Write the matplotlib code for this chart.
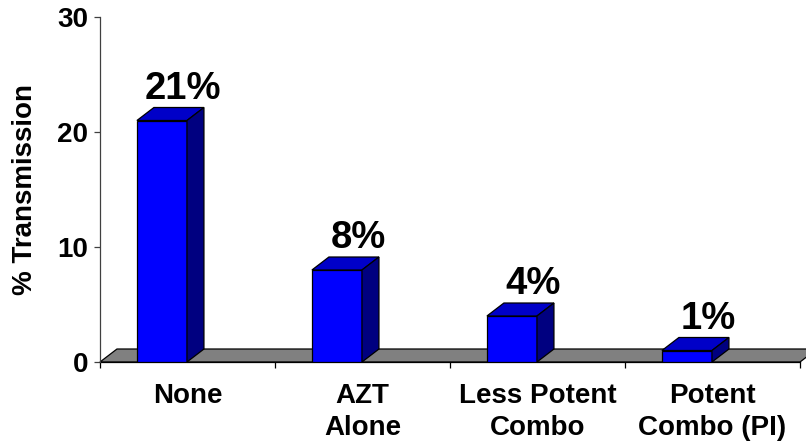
import matplotlib
matplotlib.use("Agg")
import matplotlib.pyplot as plt
from matplotlib.patches import Polygon

categories = ["None", "AZT\nAlone", "Less Potent\nCombo", "Potent\nCombo (PI)"]
values = [21, 8, 4, 1]
value_labels = ["21%", "8%", "4%", "1%"]
yticks = [0, 10, 20, 30]
ylabel = "% Transmission"

plt.rcParams['font.family'] = ['Liberation Sans', 'DejaVu Sans']
plt.rcParams['font.weight'] = 'bold'

W, H = 806, 446
fig = plt.figure(figsize=(W / 100, H / 100), dpi=100)
ax = fig.add_axes([100 / W, 84 / H, 700 / W, 345 / H])
ax.set_xlim(-0.5, 3.5)
ax.set_ylim(0, 30)

# 3D styling (offsets in data units)
dx = 0.097
dy = 1.13
bw = 0.286
front_c = "#0000FF"
top_c = "#0000C8"
side_c = "#000080"
edge = "black"
lw = 0.9

# floor
floor = Polygon([(-0.5, 0), (3.5, 0), (3.5 + dx, dy), (-0.5 + dx, dy)],
                closed=True, facecolor="#808080", edgecolor=edge, lw=lw,
                clip_on=False, zorder=1)
ax.add_patch(floor)

xs = list(range(len(values)))
x0s = [x - 0.289 for x in xs]
ax.bar(x0s, values, width=bw, align='edge', color=front_c, edgecolor=edge,
       linewidth=lw, zorder=3)
for x0, v in zip(x0s, values):
    x1 = x0 + bw
    top = Polygon([(x0, v), (x1, v), (x1 + dx, v + dy), (x0 + dx, v + dy)],
                  closed=True, facecolor=top_c, edgecolor=edge, lw=lw,
                  zorder=3, clip_on=False)
    side = Polygon([(x1, 0), (x1 + dx, dy), (x1 + dx, v + dy), (x1, v)],
                   closed=True, facecolor=side_c, edgecolor=edge, lw=lw,
                   zorder=3, clip_on=False)
    ax.add_patch(top)
    ax.add_patch(side)

for x, v, lab in zip(xs, values, value_labels):
    ax.text(x - 0.025, v + dy + 0.75, lab, ha='center', va='baseline',
            fontsize=27.5, fontweight='bold', color='black', zorder=5)

# axes styling
for s in ['top', 'right']:
    ax.spines[s].set_visible(False)
ax.spines['left'].set_color('#404040')
ax.spines['left'].set_linewidth(0.9)
ax.spines['bottom'].set_color('black')
ax.spines['bottom'].set_linewidth(0.9)
ax.spines['bottom'].set_zorder(2)

ax.set_yticks(yticks)
ax.set_yticklabels([str(t) for t in yticks], fontsize=20, fontweight='bold')
ax.tick_params(axis='y', direction='out', length=4.3, width=0.9, pad=4,
               color='#404040')

ax.set_xticks([-0.5, 0.5, 1.5, 2.5, 3.5])
ax.set_xticklabels([])
ax.set_xticks(xs, minor=True)
ax.set_xticklabels(categories, minor=True, fontsize=20, fontweight='bold',
                   linespacing=1.3)
ax.tick_params(axis='x', which='major', direction='out', length=4.3, width=0.9)
ax.tick_params(axis='x', which='minor', length=0, pad=15)

ax.set_ylabel(ylabel, fontsize=20, fontweight='bold')
ax.yaxis.set_label_coords(-0.088, 0.5)

fig.savefig("out.png", dpi=100, facecolor='white')
